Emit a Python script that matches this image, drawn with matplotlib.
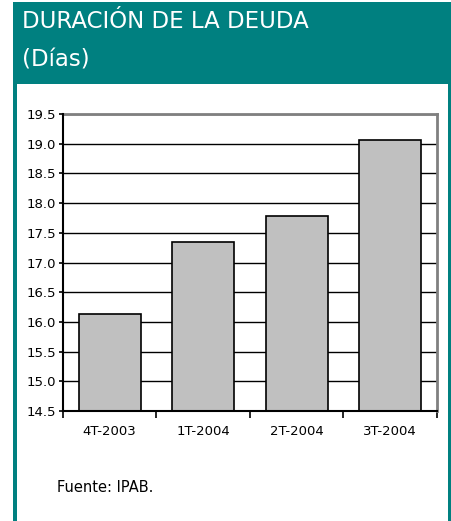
import matplotlib
matplotlib.use('Agg')

import matplotlib.pyplot as plt
from matplotlib.patches import Rectangle
import numpy as np

# Data
categories = ["4T-2003", "1T-2004", "2T-2004", "3T-2004"]
values = [16.13, 17.34, 17.79, 19.07]
yticks = [14.5, 15.0, 15.5, 16.0, 16.5, 17.0, 17.5, 18.0, 18.5, 19.0, 19.5]

W, H = 452, 521
plt.rcParams['font.family'] = ['DejaVu Sans']

fig = plt.figure(figsize=(W / 100, H / 100), dpi=100)
fig.patch.set_facecolor('white')

def px(x0, y0, x1, y1):
    # pixel box (top-left origin) -> figure fraction rect
    return (x0 / W, 1 - y1 / H), (x1 - x0) / W, (y1 - y0) / H

teal = '#008080'
xy, w, h = px(13, 2, 452, 521)
fig.patches.append(Rectangle(xy, w, h, transform=fig.transFigure,
                             facecolor=teal, edgecolor='none', zorder=-2))
xy, w, h = px(17, 84, 448, 521)
fig.patches.append(Rectangle(xy, w, h, transform=fig.transFigure,
                             facecolor='white', edgecolor='none', zorder=-1))

fig.text(22 / W, 1 - 21.5 / H, "DURACIÓN DE LA DEUDA", color='white',
         fontsize=16.5, va='center', ha='left')
fig.text(22 / W, 1 - 60 / H, "(Días)", color='white',
         fontsize=16.5, va='center', ha='left')

ax = fig.add_axes([63 / W, 1 - 411 / H, (437 - 63) / W, (411 - 114) / H])
ax.set_facecolor('white')

x = np.arange(len(categories))
ax.bar(x, values, width=0.66, bottom=0, color='#C0C0C0', edgecolor='black',
       linewidth=1.2, zorder=3)

ax.set_ylim(14.5, 19.5)
ax.set_xlim(-0.5, len(categories) - 0.5)
ax.set_yticks(yticks)
ax.set_yticklabels(["%.1f" % v for v in yticks], fontsize=9.5)
ax.yaxis.grid(True, color='black', linewidth=1.0, zorder=1)
ax.set_axisbelow(True)

ax.set_xticks(x)
ax.set_xticklabels(categories, fontsize=9.5)
ax.tick_params(axis='x', length=0, pad=10)
ax.set_xticks(np.arange(len(categories) + 1) - 0.5, minor=True)
ax.tick_params(axis='x', which='minor', length=5, width=1.2, direction='out')
ax.tick_params(axis='y', length=3, width=1.2, direction='out', pad=2)

for s in ['top', 'right']:
    ax.spines[s].set_color('#808080')
    ax.spines[s].set_linewidth(2)
for s in ['left', 'bottom']:
    ax.spines[s].set_color('black')
    ax.spines[s].set_linewidth(1.5)
    ax.spines[s].set_zorder(5)

fig.text(57 / W, 1 - 487 / H, "Fuente: IPAB.", fontsize=10.5,
         va='center', ha='left')

plt.savefig('out.png', dpi=100)
